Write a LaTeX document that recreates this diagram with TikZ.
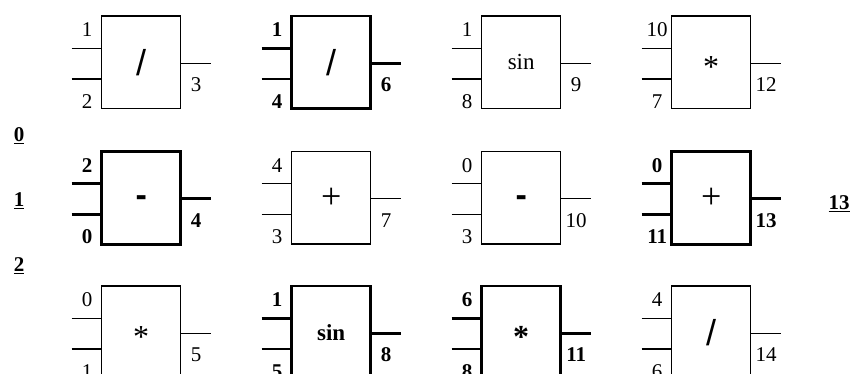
\documentclass[tikz,border=0pt]{standalone}
\usepackage{fontspec}
\setmainfont{Liberation Serif}
\newfontfamily\opsansfam{Liberation Sans}
\newcommand\opslash{{\opsansfam\fontsize{36}{40}\selectfont /}}
\newcommand\opplus{{\fontsize{36}{40}\selectfont +}}
\newcommand\opminus{\smash{\opsansfam\bfseries\fontsize{34}{40}\selectfont\raisebox{-0.265em}{-}}}
\newcommand\opstar{\smash{\fontsize{32}{36}\selectfont\raisebox{-0.47em}{*}}}
\newcommand\opstarb{\smash{\bfseries\fontsize{32}{36}\selectfont\raisebox{-0.47em}{*}}}
\newcommand\opsin{{\fontsize{23}{26}\selectfont sin}}
\newcommand\opsinb{{\bfseries\fontsize{23}{26}\selectfont sin}}
\tikzset{
  boxn/.style={draw, line width=1.4pt, minimum width=79pt, minimum height=92.7pt, inner sep=0pt, outer sep=0pt},
  boxb/.style={boxn, line width=2.8pt},
  wiren/.style={line width=1.4pt},
  wireb/.style={line width=2.8pt},
  labn/.style={anchor=base, inner sep=0pt, font=\fontsize{21}{24}\selectfont},
  labb/.style={anchor=base, inner sep=0pt, font=\fontsize{21}{24}\selectfont\bfseries},
  rowlab/.style={anchor=base, inner sep=0pt, font=\fontsize{21}{24}\selectfont\bfseries},
}
\newcommand\mygate[8]{%
  \node[box#4, anchor=north west] (#1) at (#2,#3) {#5};
  \coordinate (#1i1) at ([xshift=-30pt,yshift=-32.3pt]#1.north west);
  \coordinate (#1i2) at ([xshift=-30pt,yshift=-63pt]#1.north west);
  \coordinate (#1o) at ([xshift=30pt,yshift=-47.3pt]#1.north east);
  \draw[wire#4] (#1i1) -- (#1i1 -| #1.west);
  \draw[wire#4] (#1i2) -- (#1i2 -| #1.west);
  \draw[wire#4] (#1o -| #1.east) -- (#1o);
  \node[lab#4] (#1la) at ([xshift=-14.5pt,yshift=-20.7pt]#1.north west) {#6};
  \node[lab#4] (#1lb) at ([xshift=-14.5pt,yshift=-92.3pt]#1.north west) {#7};
  \node[lab#4] (#1lc) at ([xshift=15.5pt,yshift=-75.7pt]#1.north east) {#8};
}
\begin{document}
\begin{tikzpicture}[x=1pt,y=-1pt]
\useasboundingbox (0,0) rectangle (854,374);
\mygate{g11}{101.7}{16}{n}{\opslash}{1}{2}{3}
\mygate{g12}{291.7}{16}{b}{\opslash}{1}{4}{6}
\mygate{g13}{481.7}{16}{n}{\opsin}{1}{8}{9}
\mygate{g14}{671.7}{16}{n}{\opstar}{10}{7}{12}
\mygate{g21}{101.7}{151.5}{b}{\opminus}{2}{0}{4}
\mygate{g22}{291.7}{151.5}{n}{\opplus}{4}{3}{7}
\mygate{g23}{481.7}{151.5}{n}{\opminus}{0}{3}{10}
\mygate{g24}{671.7}{151.5}{b}{\opplus}{0}{11}{13}
\mygate{g31}{101.7}{286}{n}{\opstar}{0}{1}{5}
\mygate{g32}{291.7}{286}{b}{\opsinb}{1}{5}{8}
\mygate{g33}{481.7}{286}{b}{\opstarb}{6}{8}{11}
\mygate{g34}{671.7}{286}{n}{\opslash}{4}{6}{14}
\node[rowlab] (r0) at (19,141.7) {\underline{0}};
\node[rowlab] (r1) at (19,206.7) {\underline{1}};
\node[rowlab] (r2) at (19,271.7) {\underline{2}};
\node[rowlab] (r13) at (839,210) {\underline{13}};
\end{tikzpicture}
\end{document}
